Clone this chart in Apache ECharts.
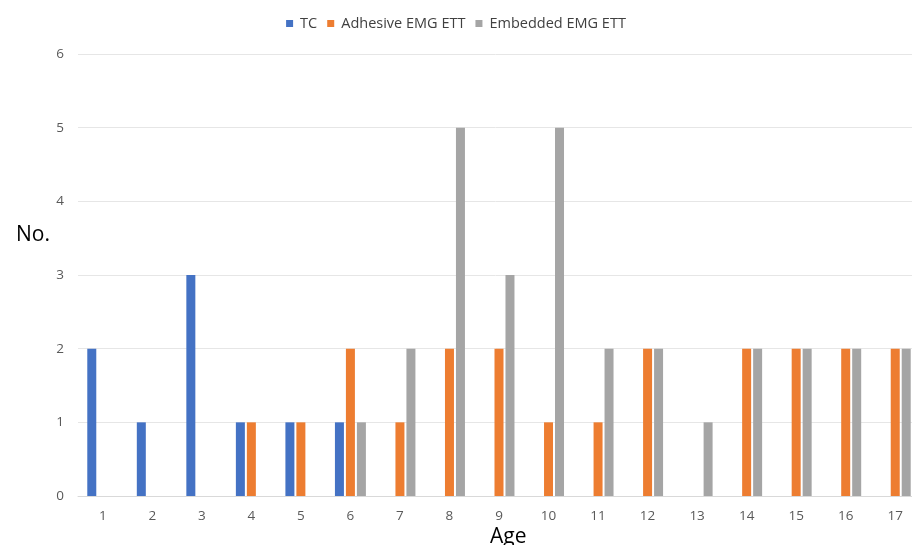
<!DOCTYPE html>
<html><head><meta charset="utf-8">
<script src="https://cdn.jsdelivr.net/npm/echarts@6/dist/echarts.min.js"></script>
<style>html,body{margin:0;padding:0;background:#fff}#c{width:912px;height:545px}</style>
</head><body><div id="c"></div>
<script>
var categories = ['1','2','3','4','5','6','7','8','9','10','11','12','13','14','15','16','17'];
var tcValues =       [2,1,3,1,1,1,0,0,0,0,0,0,0,0,0,0,0];
var adhesiveValues = [0,0,0,1,1,2,1,2,2,1,1,2,0,2,2,2,2];
var embeddedValues = [0,0,0,0,0,1,2,5,3,5,2,2,1,2,2,2,2];
var seriesNames = ['TC','Adhesive EMG ETT','Embedded EMG ETT'];
var colors = ['#4472C4','#ED7D31','#A5A5A5'];

var chart = echarts.init(document.getElementById('c'));
function mk(name, data, color){
  return {name:name,type:'bar',data:data,barWidth:9,barGap:'22%',
    itemStyle:{color:color}};
}
chart.setOption({
  animation:false,
  color:colors,
  legend:{top:11,left:'center',itemWidth:7,itemHeight:7,itemGap:10,icon:'rect',
    textStyle:{color:'#404040',fontSize:14.5,fontFamily:'Open Sans',padding:[0,0,0,2]},
    data:seriesNames},
  grid:{left:78,right:-8,top:54,bottom:49,outerBoundsMode:'none'},
  xAxis:{type:'category',data:categories,
    axisLine:{lineStyle:{color:'#d9d9d9'}},axisTick:{show:false},
    axisLabel:{color:'#595959',fontSize:13.5,margin:13,fontFamily:'Open Sans'}},
  yAxis:{type:'value',min:0,max:6,interval:1,
    axisLine:{show:false},axisTick:{show:false},
    splitLine:{lineStyle:{color:'#e6e6e6'}},
    axisLabel:{color:'#595959',fontSize:13.5,margin:14,fontFamily:'Open Sans'}},
  graphic:[
    {type:'text',left:16,top:225,style:{text:'No.',fontSize:21,fill:'#000',fontFamily:'Open Sans'}},
    {type:'text',left:490,top:527,style:{text:'Age',fontSize:21,fill:'#000',fontFamily:'Open Sans'}}
  ],
  series:[mk(seriesNames[0],tcValues,colors[0]),mk(seriesNames[1],adhesiveValues,colors[1]),mk(seriesNames[2],embeddedValues,colors[2])]
});
</script></body></html>
